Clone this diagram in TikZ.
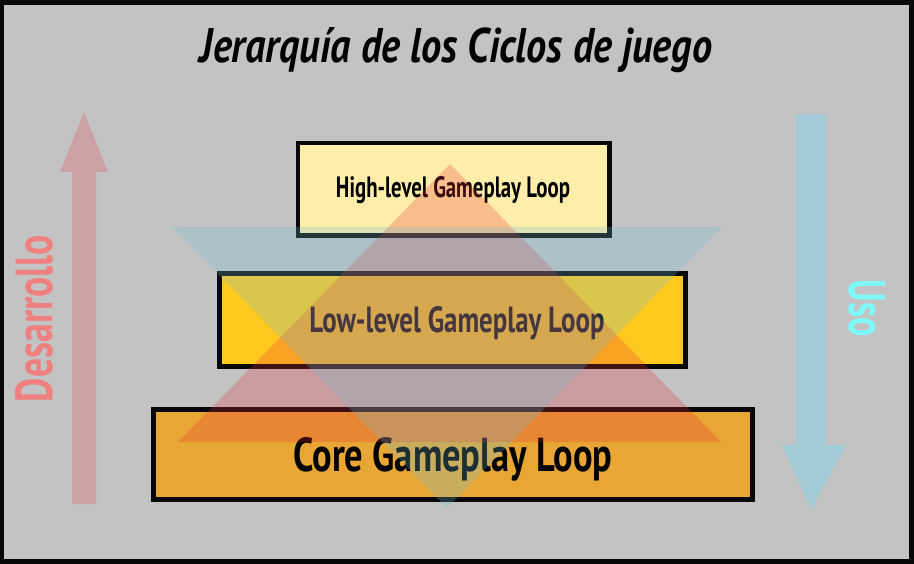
\documentclass[tikz,border=0pt]{standalone}
\usepackage{fontspec}
\setmainfont{PT Sans}
\usepackage{graphicx}
\definecolor{bggray}{RGB}{195,195,195}
\definecolor{framecol}{RGB}{8,8,8}
\definecolor{hifill}{RGB}{255,238,170}
\definecolor{lowfill}{RGB}{255,201,30}
\definecolor{corefill}{RGB}{232,166,52}
\definecolor{tri red}{RGB}{230,45,50}
\definecolor{tri blue}{RGB}{110,190,215}
\definecolor{arrow red}{RGB}{205,162,165}
\definecolor{arrow blue}{RGB}{162,203,213}
\definecolor{dev text}{RGB}{240,128,128}
\definecolor{use text}{RGB}{125,250,250}
\newcommand{\fittxt}[3]{\resizebox{#1pt}{#2pt}{#3}}
\tikzset{
  levelbox/.style={draw=framecol, line width=4.5pt, inner sep=0pt},
  leveltext/.style={anchor=base, inner sep=0pt, font=\bfseries},
  tri/.style={fill opacity=0.25, draw=none},
}
\begin{document}
\begin{tikzpicture}[x=1pt,y=-1pt]
\useasboundingbox (0,0) rectangle (914,564);
% frame and background
\fill[framecol] (0,0) rectangle (914,564);
\fill[bggray] (4,5) rectangle (909,559);
% title
\node[leveltext, font=\bfseries\itshape] (title) at (456,63) {\fittxt{512}{35}{Jerarquía de los Ciclos de juego}};
% development arrow (up)
\fill[arrow red] (72,504) -- (72,172) -- (60,172) -- (84,112) -- (108,172) -- (96,172) -- (96,504) -- cycle;
\node[leveltext, rotate=90, text=dev text] (dev) at (52,318.5) {\fittxt{167}{37}{Desarrollo}};
% use arrow (down)
\fill[arrow blue] (796,114) -- (796,445) -- (782,445) -- (811,510) -- (846,445) -- (826,445) -- (826,114) -- cycle;
\node[leveltext, rotate=-90, text=use text] (use) at (849,308.5) {\fittxt{57}{36}{Uso}};
% boxes
\node[levelbox, fill=hifill, minimum width=311.5pt, minimum height=92.5pt] (high) at (453.75,189.25) {};
\node[levelbox, fill=lowfill, minimum width=466pt, minimum height=93pt] (low) at (452.5,320) {};
\node[levelbox, fill=corefill, minimum width=599pt, minimum height=90pt] (core) at (453,454.5) {};
\node[leveltext] (hightext) at (453,198) {\fittxt{234}{21}{High-level Gameplay Loop}};
\node[leveltext] (lowtext) at (457,332) {\fittxt{295}{26}{Low-level Gameplay Loop}};
\node[leveltext] (coretext) at (453,471) {\fittxt{319}{34}{Core Gameplay Loop}};
% translucent triangles
\fill[tri, fill=tri red] (450,164) -- (721,442) -- (178,442) -- cycle;
\fill[tri, fill=tri blue] (172,227) -- (722,227) -- (447,508) -- cycle;
\end{tikzpicture}
\end{document}
